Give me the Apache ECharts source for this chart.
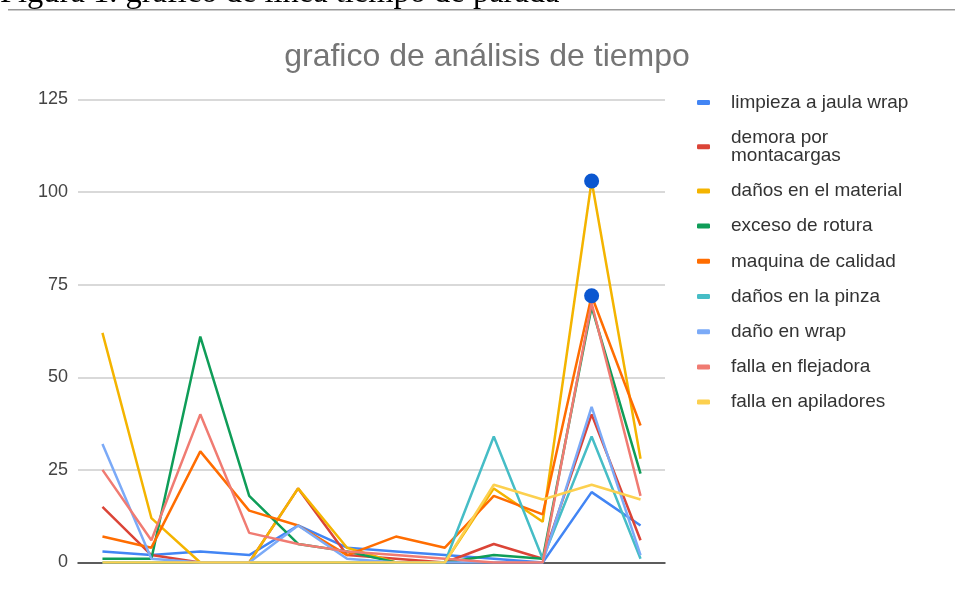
<!DOCTYPE html>
<html>
<head>
<meta charset="utf-8">
<script src="https://cdn.jsdelivr.net/npm/echarts@6/dist/echarts.min.js"></script>
<style>
  html, body { margin: 0; padding: 0; background: #fff; }
  #chart { width: 955px; height: 595px; }
</style>
</head>
<body>
<div id="chart"></div>
<script>
// 12 puntos sin etiquetas en el eje x
const puntos = ['1', '2', '3', '4', '5', '6', '7', '8', '9', '10', '11', '12'];
const yTicks = [0, 25, 50, 75, 100, 125];

const limpiezaJaula = [3, 2, 3, 2, 10, 4, 3, 2, 1, 0, 19, 10];
const demoraMontacargas = [15, 2, 0, 0, 20, 2, 1, 0, 5, 1, 40, 6];
const danosMaterial = [62, 12, 0, 0, 20, 4, 0, 0, 20, 11, 103, 28];
const excesoRotura = [1, 1, 61, 18, 5, 3, 0, 0, 2, 1, 69, 24];
const maquinaCalidad = [7, 4, 30, 14, 10, 2, 7, 4, 18, 13, 72, 37];
const danosPinza = [0, 0, 0, 0, 0, 0, 0, 0, 34, 1, 34, 1];
const danoWrap = [32, 1, 0, 0, 10, 1, 0, 0, 0, 0, 42, 2];
const fallaFlejadora = [25, 6, 40, 8, 5, 3, 2, 1, 0, 0, 70, 18];
const fallaApiladores = [0, 0, 0, 0, 0, 0, 0, 0, 21, 17, 21, 17];

// puntos resaltados (indice del punto)
const resaltadoMaterial = 10;
const resaltadoMaquina = 10;

const seriesDef = [
  { name: 'limpieza a jaula wrap', data: limpiezaJaula, color: '#4285f4' },
  { name: 'demora por montacargas', data: demoraMontacargas, color: '#db4437' },
  { name: 'daños en el material', data: danosMaterial, color: '#f4b400', mark: resaltadoMaterial },
  { name: 'exceso de rotura', data: excesoRotura, color: '#0f9d58' },
  { name: 'maquina de calidad', data: maquinaCalidad, color: '#ff6d01', mark: resaltadoMaquina },
  { name: 'daños en la pinza', data: danosPinza, color: '#46bdc6' },
  { name: 'daño en wrap', data: danoWrap, color: '#7baaf7' },
  { name: 'falla en flejadora', data: fallaFlejadora, color: '#f07b72' },
  { name: 'falla en apiladores', data: fallaApiladores, color: '#fcd04f' }
];

const fuente = '"Liberation Sans", Arial, sans-serif';
const chart = echarts.init(document.getElementById('chart'));

const series = seriesDef.map(s => ({
  name: s.name,
  type: 'line',
  symbol: 'none',
  color: s.color,
  lineStyle: { width: 2.5, color: s.color },
  data: s.data.map((v, i) => i === s.mark
    ? { value: v, symbol: 'circle', symbolSize: 15, itemStyle: { color: '#0b57d0' } }
    : v),
  animation: false
}));

const option = {
  backgroundColor: '#fff',
  title: {
    text: 'grafico de análisis de tiempo',
    left: 482,
    textAlign: 'center',
    top: 36,
    textStyle: { fontFamily: fuente, fontSize: 32, fontWeight: 'normal', color: '#757575' }
  },
  graphic: [
    {
      type: 'text',
      x: 0,
      y: 10,
      style: {
        text: 'Figura 1. grafico de linea tiempo de parada',
        font: '32.5px "Liberation Serif", serif',
        fill: '#000',
        verticalAlign: 'bottom'
      }
    },
    {
      type: 'rect',
      shape: { x: 8, y: 9, width: 947, height: 1.5 },
      style: { fill: '#999' }
    }
  ],
  legend: {
    orient: 'vertical',
    left: 692,
    top: 88,
    itemWidth: 13,
    itemHeight: 5,
    itemGap: 16.2,
    icon: 'roundRect',
    formatter: name => name === 'demora por montacargas' ? 'demora por\nmontacargas' : name,
    textStyle: { fontFamily: fuente, fontSize: 19, color: '#333', lineHeight: 18, padding: [0, 0, 0, 16] }
  },
  grid: { left: 78, right: 290, top: 99.5, bottom: 32.5 },
  xAxis: {
    type: 'category',
    data: puntos,
    boundaryGap: true,
    axisLine: { lineStyle: { color: '#333', width: 1.5 } },
    axisTick: { show: false },
    axisLabel: { show: false }
  },
  yAxis: {
    type: 'value',
    min: yTicks[0],
    max: yTicks[yTicks.length - 1],
    interval: 25,
    axisLine: { show: false },
    axisTick: { show: false },
    axisLabel: { fontFamily: fuente, fontSize: 18, color: '#444', margin: 10 },
    splitLine: { lineStyle: { color: '#cccccc', width: 1.5 } }
  },
  series: series
};

chart.setOption(option);
</script>
</body>
</html>
